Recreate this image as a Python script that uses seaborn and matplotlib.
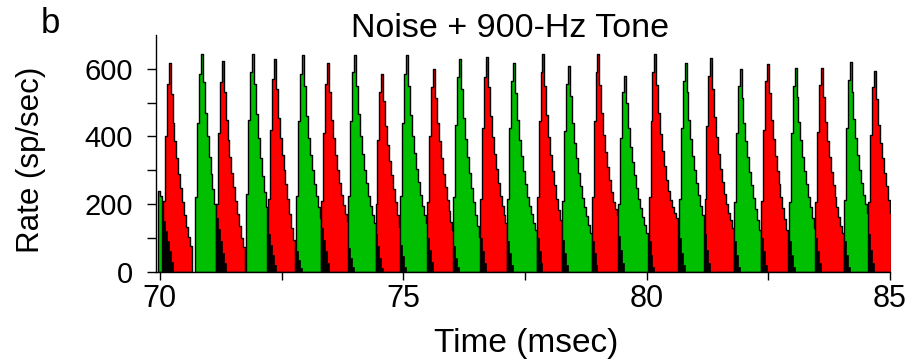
import numpy as np
import pandas as pd
import matplotlib.pyplot as plt
import seaborn as sns

# PST histogram, noise + 900-Hz tone, bins of 0.04 ms
BIN_MS = 0.04

# onset of each coloured cycle (ms)
seg_onsets = [69.97, 70.06, 70.72, 71.15, 71.77, 72.22, 72.80, 73.32, 73.87, 74.43,
              74.94, 75.49, 76.03, 76.58, 77.14, 77.74, 78.27, 78.87, 79.42, 80.04,
              80.66, 81.19, 81.79, 82.35, 82.92, 83.46, 84.05, 84.55]
seg_colors = ['g', 'r', 'g', 'r', 'g', 'r', 'g', 'r', 'g', 'r',
              'g', 'r', 'g', 'r', 'g', 'r', 'g', 'r', 'g', 'r',
              'g', 'r', 'g', 'r', 'g', 'r', 'g', 'r']
# rate (sp/sec) in each bin from the onset
seg_rates = [
    [240, 225],
    [210, 400, 555, 618, 525, 440, 385, 335, 290, 248, 205, 168, 133, 102, 75],
    [220, 440, 585, 644, 560, 470, 400, 340, 290, 245, 200],
    [200, 410, 560, 622, 530, 450, 390, 340, 292, 250, 210, 170, 135, 100, 73],
    [230, 450, 590, 645, 555, 465, 395, 335, 282, 235, 190],
    [215, 420, 570, 630, 540, 455, 395, 345, 300, 258, 215, 172, 130, 93],
    [225, 445, 585, 642, 550, 460, 395, 345, 300, 260, 225, 190, 160],
    [210, 410, 555, 617, 530, 450, 395, 345, 300, 262, 228, 198, 172, 150],
    [225, 445, 590, 642, 550, 465, 400, 348, 302, 262, 225, 195, 168, 143],
    [200, 390, 530, 585, 505, 430, 375, 328, 285, 245, 205, 168, 132],
    [225, 440, 585, 640, 548, 462, 400, 350, 305, 265, 228, 195, 168, 143],
    [205, 400, 545, 600, 515, 440, 385, 335, 290, 250, 212, 178, 148, 123],
    [220, 435, 575, 630, 540, 455, 392, 340, 292, 248, 205, 168, 135, 103],
    [215, 425, 575, 636, 545, 460, 398, 348, 303, 262, 225, 195, 168, 143],
    [215, 425, 565, 617, 528, 448, 390, 342, 298, 258, 222, 195, 170, 145, 123],
    [220, 445, 590, 644, 550, 462, 398, 345, 298, 255, 215, 182, 152],
    [210, 415, 555, 608, 520, 440, 382, 335, 292, 252, 218, 192, 165, 138, 113],
    [220, 445, 590, 644, 552, 468, 405, 355, 310, 270, 235, 205, 185, 167],
    [200, 395, 530, 580, 498, 425, 370, 325, 285, 248, 215, 188, 162, 138, 113],
    [220, 445, 590, 644, 552, 468, 408, 358, 312, 272, 238, 212, 192, 175, 160],
    [215, 425, 565, 617, 530, 450, 392, 343, 300, 262, 228, 195, 167],
    [215, 430, 580, 632, 540, 458, 398, 348, 305, 265, 230, 200, 175, 152, 130],
    [205, 410, 550, 600, 515, 440, 385, 338, 295, 255, 218, 185, 152, 123],
    [210, 420, 565, 615, 528, 448, 392, 343, 298, 258, 222, 188, 155, 123],
    [205, 410, 550, 602, 518, 442, 388, 340, 298, 258, 222, 190, 160, 130],
    [205, 412, 552, 603, 518, 442, 385, 338, 295, 255, 220, 190, 162, 136, 113],
    [212, 425, 568, 620, 532, 452, 395, 345, 302, 262, 228, 200, 175],
    [205, 405, 545, 594, 510, 435, 380, 335, 292, 252, 212, 175],
]
# black overlap of the previous cycle's tail at each onset
tail_rates = [
    [],
    [150, 120, 90, 60, 30],
    [],
    [160, 125, 90, 55, 25],
    [],
    [110, 80, 50, 20],
    [60, 35, 10],
    [130, 95, 60, 25],
    [70, 40, 15],
    [110, 75, 40, 10],
    [80, 45, 15],
    [100, 65, 30],
    [75, 40, 15],
    [100, 60, 25],
    [90, 55, 20],
    [100, 60, 25],
    [95, 55, 20],
    [90, 55, 20],
    [105, 65, 25],
    [90, 50, 15],
    [100, 55, 20],
    [110, 65, 25],
    [90, 50, 15],
    [100, 60, 20],
    [90, 50, 15],
    [100, 60, 25],
    [90, 50, 15],
    [110, 65, 25],
]

colores = {'g': '#00bf00', 'r': '#ff0000', 'k': '#000000'}

sns.set_style('ticks')
plt.rcParams['font.family'] = ['Liberation Sans', 'DejaVu Sans']
plt.rcParams['text.color'] = 'black'
plt.rcParams['xtick.color'] = 'black'
plt.rcParams['ytick.color'] = 'black'
plt.rcParams['axes.edgecolor'] = 'black'

fig = plt.figure(figsize=(9.09, 3.61), dpi=100)
ax = fig.add_axes([0.1716, 0.2474, 0.8075, 0.6557])


def desenha(onset, rates, cor, lw):
    bordas = onset + BIN_MS * np.arange(len(rates) + 1)
    df = pd.DataFrame({'t': bordas[:-1] + BIN_MS / 2, 'rate': rates})
    sns.histplot(data=df, x='t', weights='rate', bins=list(bordas), element='step', fill=True,
                 color=colores[cor], alpha=1, edgecolor='black', linewidth=lw, ax=ax)


for onset, rates, cor in zip(seg_onsets, seg_rates, seg_colors):
    desenha(onset, rates, cor, 1.0)

for onset, rates in zip(seg_onsets, tail_rates):
    if rates:
        desenha(onset, rates, 'k', 0.5)

ax.set_xlim(69.92, 85.0)
ax.set_ylim(0, 700)
ax.set_xticks([70, 75, 80, 85])
ax.set_xticks([72.5, 77.5, 82.5], minor=True)
ax.set_yticks([0, 200, 400, 600])
ax.set_yticks([100, 300, 500], minor=True)
ax.tick_params(axis='y', which='both', direction='out', length=6.5, width=1, pad=10,
               labelsize=21, colors='black')
ax.tick_params(axis='x', which='both', direction='out', length=5.5, width=1, pad=3.5,
               labelsize=22, colors='black')
ax.set_xlabel('')
ax.set_ylabel('')
sns.despine(ax=ax)
for s in ['left', 'bottom']:
    ax.spines[s].set_linewidth(1)
    ax.spines[s].set_color('black')

fig.text(510 / 909, 1 - 37 / 361, 'Noise + 900-Hz Tone', ha='center', va='baseline', fontsize=24.5)
fig.text(41 / 909, 1 - 33 / 361, 'b', ha='left', va='baseline', fontsize=25)
fig.text(31 / 909, 1 - 160 / 361, 'Rate (sp/sec)', rotation=90, ha='center', va='center', fontsize=22.5)
fig.text(526 / 909, 1 - 352 / 361, 'Time (msec)', ha='center', va='baseline', fontsize=24)

fig.savefig('out.png', dpi=100)
